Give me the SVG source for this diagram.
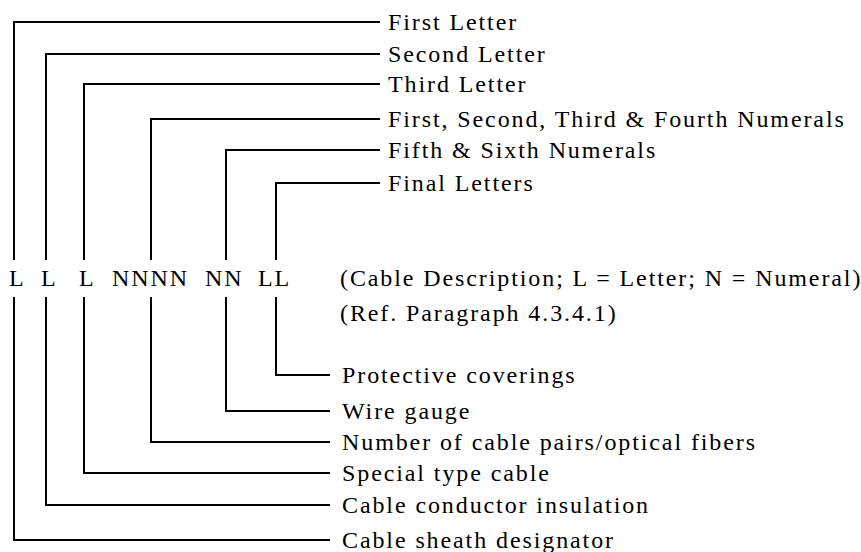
<svg xmlns="http://www.w3.org/2000/svg" width="861" height="552" viewBox="0 0 861 552">
<style>
  .ln { fill: none; stroke: #000; stroke-width: 2; }
  .t { font-family: "Liberation Serif", "Times New Roman", serif; font-size: 24px; letter-spacing: 1.9px; fill: #000; }
</style>
<rect width="861" height="552" fill="#fff"/>
<g id="connectors">
  <polyline class="ln" points="14,260 14,22 380,22"/>
  <polyline class="ln" points="46,260 46,54 380,54"/>
  <polyline class="ln" points="84,260 84,84 380,84"/>
  <polyline class="ln" points="151,260 151,119 380,119"/>
  <polyline class="ln" points="226,260 226,150 380,150"/>
  <polyline class="ln" points="276,260 276,183 380,183"/>
  <polyline class="ln" points="276,297 276,375 330,375"/>
  <polyline class="ln" points="226,297 226,411 330,411"/>
  <polyline class="ln" points="151,297 151,442 330,442"/>
  <polyline class="ln" points="84,297 84,473 330,473"/>
  <polyline class="ln" points="46,297 46,505 330,505"/>
  <polyline class="ln" points="14,297 14,540 330,540"/>
</g>
<g id="code">
  <text class="t" x="9" y="286">L</text>
  <text class="t" x="41" y="286">L</text>
  <text class="t" x="79" y="286">L</text>
  <text class="t" x="112" y="286">NNNN</text>
  <text class="t" x="205" y="286">NN</text>
  <text class="t" x="258" y="286">LL</text>
</g>
<g id="description">
  <text class="t" x="340" y="286">(Cable Description; L = Letter; N = Numeral)</text>
  <text class="t" x="340" y="321">(Ref. Paragraph 4.3.4.1)</text>
</g>
<g id="top-labels">
  <text class="t" x="388" y="30">First Letter</text>
  <text class="t" x="388" y="62">Second Letter</text>
  <text class="t" x="388" y="92">Third Letter</text>
  <text class="t" x="388" y="127">First, Second, Third &amp; Fourth Numerals</text>
  <text class="t" x="388" y="158">Fifth &amp; Sixth Numerals</text>
  <text class="t" x="388" y="191">Final Letters</text>
</g>
<g id="bottom-labels">
  <text class="t" x="342" y="383">Protective coverings</text>
  <text class="t" x="342" y="419">Wire gauge</text>
  <text class="t" x="342" y="450">Number of cable pairs/optical fibers</text>
  <text class="t" x="342" y="481">Special type cable</text>
  <text class="t" x="342" y="513">Cable conductor insulation</text>
  <text class="t" x="342" y="548">Cable sheath designator</text>
</g>
</svg>
